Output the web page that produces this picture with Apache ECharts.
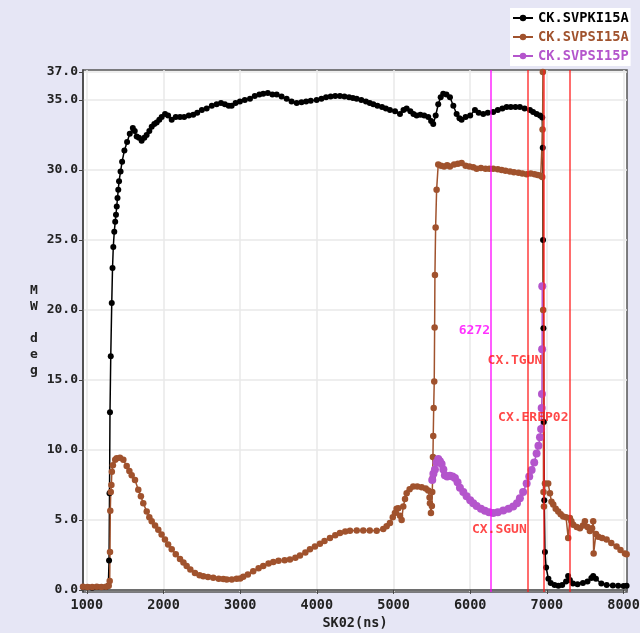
<!DOCTYPE html>
<html>
<head>
<meta charset="utf-8">
<title>SK02</title>
<script src="https://cdn.jsdelivr.net/npm/echarts@6/dist/echarts.min.js"></script>
<style>
  html, body { margin: 0; padding: 0; background: #e6e6f5; }
  #main { width: 640px; height: 633px; }
</style>
</head>
<body>
<div id="main"></div>
<script>
// series values, [ns, value]
var svpki15a = [
  [950,0.2],[1010,0.2],[1070,0.15],[1130,0.2],[1190,0.2],[1250,0.2],[1280,0.3],[1290,2.1],[1296,6.9],
  [1302,12.7],[1312,16.7],[1325,20.5],[1335,23.0],[1345,24.5],[1358,25.6],[1370,26.3],[1380,26.8],
  [1390,27.4],[1400,28.0],[1410,28.6],[1420,29.2],[1440,29.9],[1460,30.6],[1490,31.4],[1525,32.0],
  [1560,32.6],[1600,33.0],[1625,32.8],[1650,32.4],[1680,32.3],[1715,32.1],[1750,32.3],[1780,32.5],
  [1815,32.8],[1846,33.1],[1880,33.3],[1911,33.4],[1945,33.6],[1976,33.8],[2020,34.0],[2060,33.9],
  [2107,33.6],[2160,33.8],[2215,33.8],[2270,33.8],[2330,33.9],[2388,33.95],[2440,34.1],[2500,34.3],
  [2563,34.4],[2630,34.6],[2693,34.7],[2750,34.8],[2800,34.7],[2850,34.6],[2889,34.6],[2940,34.8],
  [2997,34.9],[3060,35.0],[3128,35.1],[3190,35.3],[3250,35.4],[3301,35.45],[3360,35.5],[3420,35.4],
  [3476,35.4],[3540,35.25],[3606,35.1],[3670,34.9],[3737,34.8],[3800,34.85],[3860,34.9],[3920,34.95],
  [3997,35.0],[4060,35.1],[4120,35.2],[4180,35.25],[4240,35.3],[4301,35.3],[4360,35.25],[4420,35.2],
  [4470,35.15],[4519,35.1],[4580,35.0],[4640,34.9],[4690,34.8],[4736,34.7],[4790,34.6],[4850,34.5],
  [4900,34.4],[4953,34.3],[5020,34.2],[5084,34.0],[5130,34.3],[5171,34.4],[5220,34.2],[5260,34.0],
  [5301,33.9],[5350,33.95],[5400,33.9],[5453,33.8],[5490,33.5],[5518,33.3],[5550,33.9],[5583,34.7],
  [5615,35.2],[5648,35.45],[5690,35.4],[5736,35.2],[5780,34.6],[5823,34.0],[5860,33.7],[5888,33.6],
  [5940,33.8],[6000,33.9],[6062,34.3],[6110,34.1],[6170,34.0],[6230,34.1],[6300,34.15],[6360,34.3],
  [6420,34.4],[6475,34.5],[6530,34.5],[6590,34.5],[6648,34.5],[6710,34.4],[6779,34.3],[6820,34.15],
  [6866,34.0],[6910,33.9],[6940,33.75],[6946,31.6],[6950,25.0],[6955,18.7],[6960,12.0],[6966,6.4],
  [6975,2.7],[6990,1.6],[7020,0.8],[7050,0.5],[7100,0.35],[7150,0.3],[7200,0.35],[7250,0.6],
  [7277,1.0],[7300,0.7],[7340,0.46],[7400,0.4],[7470,0.5],[7530,0.6],[7580,0.85],[7604,1.0],
  [7640,0.8],[7710,0.46],[7780,0.35],[7860,0.32],[7930,0.3],[8000,0.27],[8040,0.3]
];

var svpsi15a = [
  [950,0.23],[1010,0.2],[1070,0.2],[1130,0.22],[1190,0.2],[1250,0.23],[1285,0.3],[1298,0.63],
  [1302,2.7],[1306,5.65],[1312,7.0],[1320,7.5],[1326,8.45],[1340,8.9],[1370,9.3],[1389,9.4],
  [1432,9.45],[1476,9.3],[1520,8.85],[1555,8.5],[1585,8.2],[1628,7.85],[1671,7.15],[1705,6.7],
  [1736,6.2],[1781,5.6],[1815,5.2],[1846,4.9],[1890,4.6],[1932,4.3],[1975,3.95],[2019,3.6],
  [2060,3.25],[2107,2.9],[2160,2.55],[2215,2.2],[2260,1.95],[2302,1.7],[2350,1.45],[2410,1.2],
  [2470,1.05],[2519,0.98],[2580,0.92],[2649,0.87],[2720,0.8],[2780,0.78],[2824,0.75],[2890,0.75],
  [2954,0.8],[3000,0.82],[3040,0.94],[3100,1.1],[3170,1.34],[3240,1.55],[3301,1.7],[3370,1.88],
  [3432,2.0],[3500,2.08],[3580,2.12],[3649,2.17],[3720,2.3],[3780,2.45],[3850,2.68],[3910,2.9],
  [3975,3.1],[4040,3.3],[4100,3.5],[4171,3.7],[4240,3.9],[4301,4.07],[4370,4.18],[4432,4.23],
  [4520,4.25],[4605,4.25],[4690,4.24],[4780,4.23],[4866,4.35],[4910,4.55],[4953,4.78],[4990,5.2],
  [5018,5.5],[5040,5.8],[5062,5.84],[5085,5.3],[5106,5.0],[5127,5.96],[5150,6.5],[5171,6.9],
  [5210,7.2],[5257,7.38],[5310,7.38],[5367,7.33],[5420,7.25],[5453,7.1],[5470,6.6],[5475,6.2],
  [5488,5.5],[5500,6.0],[5505,7.0],[5510,8.0],[5514,9.5],[5518,11.0],[5524,13.0],[5531,14.9],
  [5536,18.75],[5540,22.5],[5549,25.9],[5562,28.6],[5583,30.4],[5620,30.3],[5660,30.25],[5700,30.35],
  [5736,30.25],[5790,30.4],[5840,30.45],[5888,30.5],[5940,30.3],[5990,30.25],[6040,30.2],[6084,30.1],
  [6140,30.15],[6200,30.1],[6250,30.1],[6300,30.1],[6360,30.05],[6410,30.0],[6460,29.95],[6518,29.9],
  [6570,29.85],[6630,29.8],[6680,29.75],[6736,29.7],[6790,29.75],[6840,29.7],[6880,29.65],[6920,29.6],
  [6940,29.5],[6944,32.9],[6948,37.0],[6952,20.0],[6956,7.0],[6962,5.96],[6975,7.6],[7017,7.6],
  [7040,6.9],[7060,6.3],[7083,6.1],[7115,5.8],[7148,5.6],[7180,5.4],[7213,5.25],[7250,5.2],
  [7278,3.7],[7300,5.13],[7320,4.9],[7344,4.66],[7390,4.5],[7431,4.4],[7470,4.6],[7496,4.9],
  [7530,4.5],[7561,4.2],[7590,4.4],[7604,4.9],[7610,2.6],[7640,4.0],[7670,3.8],[7720,3.7],
  [7779,3.6],[7840,3.35],[7909,3.1],[7960,2.85],[8018,2.6],[8040,2.55]
];

var svpsi15p = [
  [5505,7.85],[5520,8.3],[5540,8.6],[5560,9.1],[5583,9.35],[5605,9.2],[5627,9.0],[5650,8.6],
  [5670,8.2],[5700,8.1],[5736,8.15],[5770,8.1],[5801,8.0],[5835,7.7],[5866,7.3],[5910,7.0],
  [5953,6.7],[6000,6.4],[6040,6.2],[6084,6.0],[6140,5.8],[6192,5.65],[6245,5.55],[6300,5.5],
  [6360,5.55],[6431,5.67],[6500,5.8],[6561,5.96],[6610,6.2],[6648,6.55],[6690,7.0],[6736,7.6],
  [6770,8.1],[6801,8.56],[6835,9.1],[6866,9.75],[6890,10.3],[6910,10.9],[6925,11.5],[6932,13.0],
  [6936,14.0],[6938,17.2],[6940,21.7]
];

// marker lines and their captions
var markerNames  = ['6272', 'CX.SGUN', 'CX.TGUN', 'CX.EREP02'];
var markerX      = [6272, 6750, 6954, 7295];
var markerLabelY = [18.5, 4.3, 16.4, 12.3];
var markerColors = ['#ff00ff', '#ff1a1a', '#ff1a1a', '#ff1a1a'];

// tick labels
var xTicks = [1000, 2000, 3000, 4000, 5000, 6000, 7000, 8000];
var yTicks = [0, 5, 10, 15, 20, 25, 30, 35, 37];

var seriesNames  = ['CK.SVPKI15A', 'CK.SVPSI15A', 'CK.SVPSI15P'];
var seriesColors = ['#000000', '#a0522d', '#b455cc'];

var FONT = 'DejaVu Sans Mono';
var myChart = echarts.init(document.getElementById('main'));

function lineSeries(i, data, size) {
    return {
        name: seriesNames[i],
        type: 'line',
        data: data,
        symbol: 'circle',
        symbolSize: size,
        color: seriesColors[i],
        lineStyle: { width: 1.5, color: seriesColors[i] },
        itemStyle: { color: seriesColors[i] }
    };
}

var option = {
    animation: false,
    backgroundColor: '#e6e6f5',
    grid: {
        left: 83, right: 13, top: 70, bottom: 41,
        outerBoundsMode: 'none',
        containLabel: false,
        show: true, backgroundColor: '#ffffff',
        borderColor: '#555555', borderWidth: 1.5
    },
    legend: {
        orient: 'vertical',
        left: 510, top: 8,
        padding: [3, 2, 3, 2],
        itemGap: 5,
        itemWidth: 20, itemHeight: 8,
        backgroundColor: '#ffffff',
        textStyle: { fontFamily: FONT, fontWeight: 'bold', fontSize: 13.7, height: 14, lineHeight: 14 },
        data: seriesNames.map(function (n, i) {
            return { name: n, textStyle: { color: seriesColors[i] } };
        })
    },
    xAxis: {
        type: 'value',
        min: 950, max: 8045,
        name: 'SK02(ns)',
        nameLocation: 'middle',
        nameGap: 22,
        nameTextStyle: { fontFamily: FONT, fontWeight: 'bold', fontSize: 13.5, color: '#222' },
        axisLine: { lineStyle: { color: '#444', width: 1.5 } },
        axisTick: { customValues: xTicks, length: 4, lineStyle: { color: '#444' } },
        axisLabel: {
            customValues: xTicks, margin: 6,
            formatter: function (v) { return String(v); },
            fontFamily: FONT, fontWeight: 'bold', fontSize: 13.5, color: '#222'
        },
        splitLine: { show: true, lineStyle: { color: '#e8e8e8', width: 1.5 } }
    },
    yAxis: {
        type: 'value',
        min: -0.15, max: 37.15,
        name: 'M\nW\n\nd\ne\ng',
        nameLocation: 'middle',
        nameRotate: 0,
        nameGap: 49,
        nameTextStyle: { fontFamily: FONT, fontWeight: 'bold', fontSize: 13, color: '#222', lineHeight: 16, align: 'center', padding: [8, 0, 0, 0] },
        axisLine: { show: true, lineStyle: { color: '#444', width: 1.5 } },
        axisTick: { show: true, customValues: yTicks, length: 4, lineStyle: { color: '#444' } },
        axisLabel: {
            customValues: yTicks, margin: 5,
            formatter: function (v) { return v.toFixed(1); },
            fontFamily: FONT, fontWeight: 'bold', fontSize: 13, color: '#222'
        },
        splitLine: { show: true, lineStyle: { color: '#e8e8e8', width: 1.5 } }
    },
    series: [
        lineSeries(0, svpki15a, 6),
        lineSeries(1, svpsi15a, 6.5),
        lineSeries(2, svpsi15p, 8),
        {
            name: 'markers',
            type: 'scatter',
            symbolSize: 0,
            silent: true,
            z: 5,
            data: markerX.map(function (x, i) {
                return {
                    value: [x, markerLabelY[i]],
                    label: {
                        show: true, position: 'left', distance: 1,
                        formatter: markerNames[i],
                        fontFamily: FONT, fontWeight: 'bold', fontSize: 13,
                        color: markerColors[i]
                    }
                };
            }),
            markLine: {
                silent: true,
                symbol: ['none', 'none'],
                label: { show: false },
                data: markerX.map(function (x, i) {
                    return { xAxis: x, lineStyle: { color: markerColors[i], width: 1.5, type: 'solid', opacity: 0.85 } };
                })
            }
        }
    ]
};

myChart.setOption(option);
</script>
</body>
</html>
